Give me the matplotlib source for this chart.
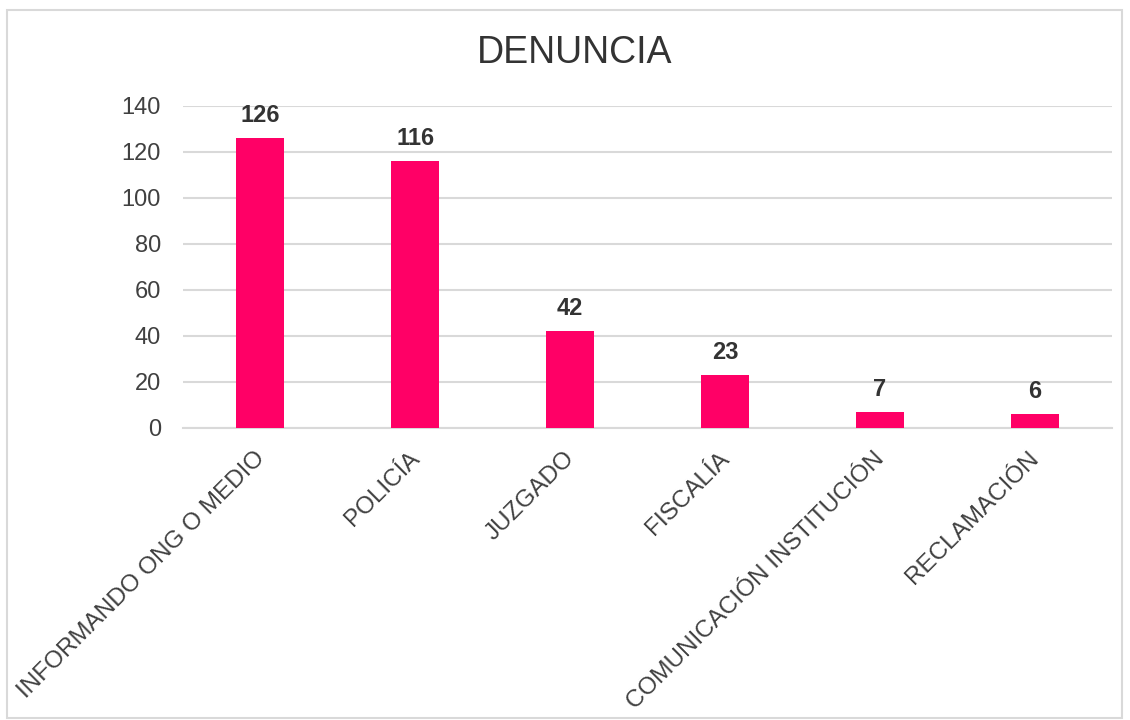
import matplotlib.pyplot as plt
import numpy as np
from matplotlib.patches import Rectangle

categories = ['INFORMANDO ONG O MEDIO', 'POLICÍA', 'JUZGADO', 'FISCALÍA',
              'COMUNICACIÓN INSTITUCIÓN', 'RECLAMACIÓN']
values = [126, 116, 42, 23, 7, 6]
y_ticks = [0, 20, 40, 60, 80, 100, 120, 140]

bar_color = '#FF0066'
text_color = '#404040'
grid_color = '#D9D9D9'

plt.rcParams['font.family'] = ['Liberation Sans', 'DejaVu Sans']

fig = plt.figure(figsize=(11.3, 7.2), dpi=100)
fig.patch.set_facecolor('white')
fig.patches.append(Rectangle((7 / 1130, 2 / 720), 1115 / 1130, 708 / 720,
                             transform=fig.transFigure, fill=False,
                             edgecolor='#D9D9D9', linewidth=1.5))

ax = fig.add_axes([183 / 1130, 1 - 428 / 720, 929 / 1130, 322 / 720])
x = np.arange(len(categories))
ax.bar(x, values, width=0.31, color=bar_color, zorder=3)

for xi, v in zip(x, values):
    ax.annotate(str(v), (xi, v), xytext=(0, 8), textcoords='offset points',
                ha='center', va='bottom', fontsize=17, fontweight='bold',
                color='#333333')

ax.set_xlim(-0.5, len(categories) - 0.5)
ax.set_ylim(0, 140)
ax.set_yticks(y_ticks)
ax.set_yticklabels([str(t) for t in y_ticks], fontsize=17, color=text_color)
ax.set_xticks(x - 0.045)
ax.set_xticklabels(categories, rotation=45, ha='right', va='top',
                   rotation_mode='anchor', fontsize=17.5, color=text_color)
ax.tick_params(axis='both', length=0)
ax.tick_params(axis='x', pad=14)
ax.tick_params(axis='y', pad=16)
ax.grid(axis='y', color=grid_color, linewidth=1.5, zorder=0)
for s in ['top', 'right', 'left']:
    ax.spines[s].set_visible(False)
ax.spines['bottom'].set_color(grid_color)
ax.spines['bottom'].set_linewidth(1.5)

fig.text(575 / 1130, 1 - 53 / 720, 'DENUNCIA', ha='center', va='center',
         fontsize=27, color='#333333')

fig.savefig('out.png', dpi=100)
